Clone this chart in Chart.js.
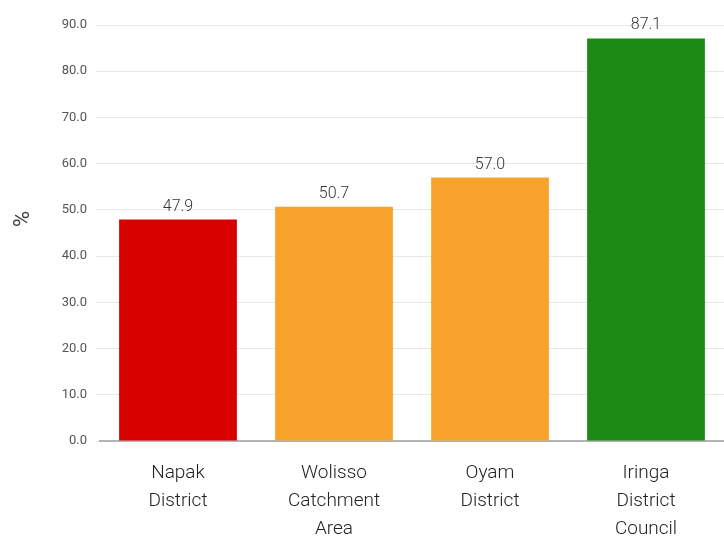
<!DOCTYPE html>
<html>
<head>
<meta charset="utf-8">
<script src="https://cdn.jsdelivr.net/npm/chart.js@4"></script>
<style>
  html, body { margin: 0; padding: 0; background: #fff; }
  #wrap { width: 724px; height: 537px; }
</style>
</head>
<body>
<div id="wrap"><canvas id="chart"></canvas></div>
<script>
var categories = [["Napak", "District"], ["Wolisso", "Catchment", "Area"], ["Oyam", "District"], ["Iringa", "District", "Council"]];
var values = [47.9, 50.7, 57.0, 87.1];
var barColors = ["#d90000", "#f8a32b", "#f8a32b", "#1c8a13"];
var yTicks = [0, 10, 20, 30, 40, 50, 60, 70, 80, 90];
var yTitle = '%';

// value above each bar, plus the y title
var valueLabels = {
  id: 'valueLabels',
  afterDatasetsDraw: function(chart) {
    var ctx = chart.ctx;
    var meta = chart.getDatasetMeta(0);
    ctx.save();
    ctx.font = '300 16px Roboto';
    ctx.fillStyle = '#333';
    ctx.textAlign = 'center';
    ctx.textBaseline = 'bottom';
    meta.data.forEach(function(bar, i) {
      ctx.fillText(values[i].toFixed(1), bar.x, bar.y - 5);
    });
    // y title
    var area = chart.chartArea;
    ctx.translate(23, (area.top + area.bottom) / 2 - 14);
    ctx.rotate(-Math.PI / 2);
    ctx.textBaseline = 'middle';
    ctx.font = '22px Roboto';
    ctx.fillStyle = '#444';
    ctx.fillText(yTitle, 0, 0);
    ctx.restore();
  }
};

var ctx = document.getElementById('chart');
var chart = new Chart(ctx, {
  type: 'bar',
  data: {
    labels: categories,
    datasets: [{
      label: '%',
      data: values,
      backgroundColor: barColors,
      borderWidth: 0,
      categoryPercentage: 1,
      barPercentage: 0.755
    }]
  },
  options: {
    responsive: true,
    maintainAspectRatio: false,
    animation: false,
    layout: { padding: { top: 25, right: 0, left: 0, bottom: 0 } },
    plugins: {
      legend: { display: false },
      tooltip: { enabled: false }
    },
    scales: {
      x: {
        grid: { display: false, drawTicks: false },
        border: { color: '#b4b4b4', width: 2 },
        ticks: {
          color: '#222',
          font: { family: 'Roboto', size: 19, weight: '300', lineHeight: 1.47 },
          padding: 18,
          maxRotation: 0,
          autoSkip: false
        },
        afterFit: function(scale) { scale.height = 96; }
      },
      y: {
        min: 0,
        max: 90,
        afterBuildTicks: function(scale) {
          scale.ticks = yTicks.map(function(v) { return { value: v }; });
        },
        grid: { color: '#e8e8e8', lineWidth: 1, tickLength: 4 },
        border: { display: false },
        ticks: {
          color: '#555',
          font: { family: 'Roboto', size: 13 },
          padding: 9,
          callback: function(v) { return Number(v).toFixed(1); }
        },
        afterFit: function(scale) { scale.width = 100; }
      }
    }
  },
  plugins: [valueLabels]
});
</script>
</body>
</html>
